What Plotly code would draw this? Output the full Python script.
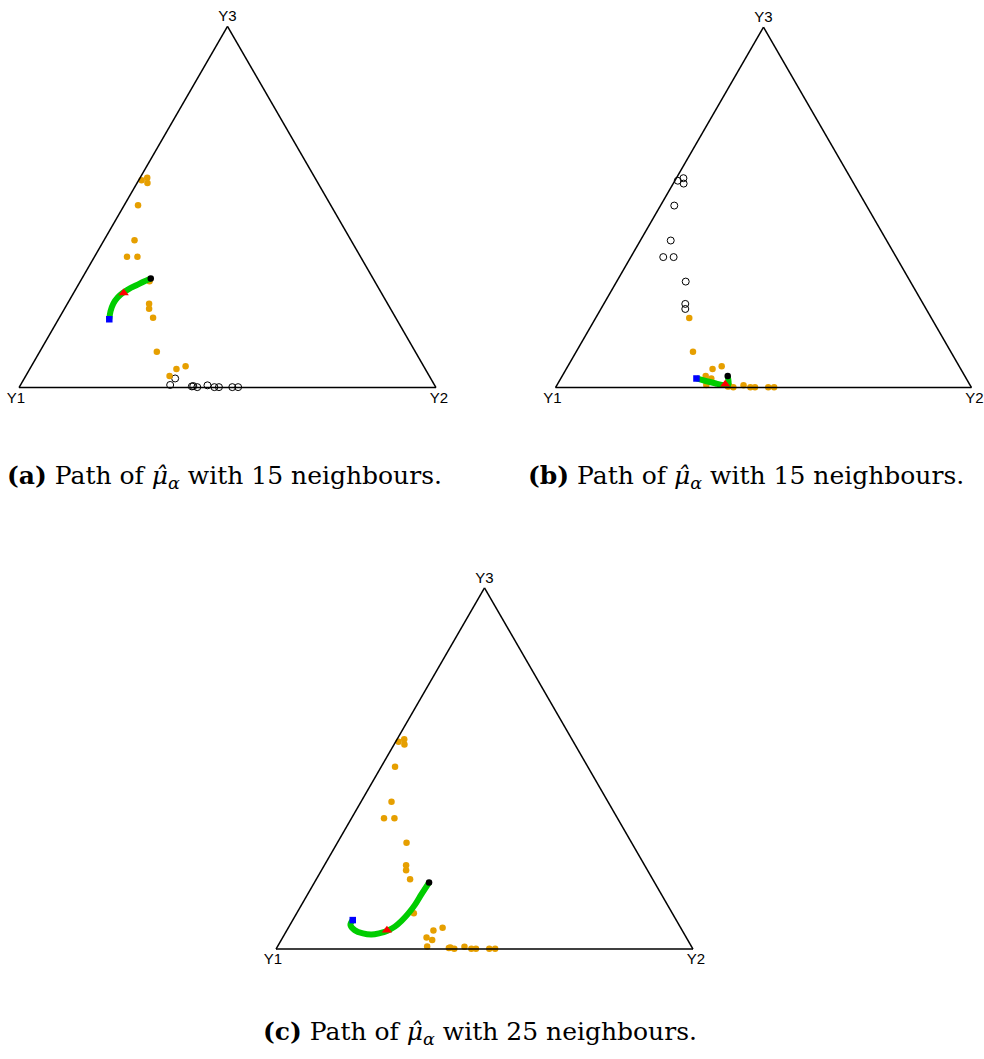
import plotly.graph_objects as go

W, H = 984, 1059

# ---- data: 25 compositions (Y1, Y2, Y3) ----
y1 = [0.419, 0.402, 0.409, 0.462, 0.519, 0.560, 0.535, 0.540, 0.572, 0.579,
      0.582, 0.620, 0.597, 0.571, 0.623, 0.613, 0.634, 0.584, 0.580, 0.572,
      0.545, 0.531, 0.520, 0.488, 0.474]
y2 = [0.007, 0.017, 0.025, 0.033, 0.073, 0.078, 0.103, 0.166, 0.196, 0.203,
      0.225, 0.281, 0.352, 0.370, 0.345, 0.362, 0.359, 0.413, 0.416, 0.427,
      0.449, 0.468, 0.479, 0.511, 0.525]
y3 = [0.574, 0.581, 0.566, 0.505, 0.408, 0.362, 0.362, 0.294, 0.232, 0.218,
      0.193, 0.099, 0.051, 0.059, 0.032, 0.025, 0.007, 0.003, 0.004, 0.001,
      0.006, 0.001, 0.001, 0.001, 0.001]

# neighbour sets (indices into the data) for each panel
neigh_a = list(range(0, 15))
neigh_b = list(range(10, 25))
neigh_c = list(range(0, 25))

# paths of mu_hat_alpha (Y1, Y2, Y3), start (blue) -> end (black)
path_a_y1 = [0.689, 0.675, 0.657, 0.638, 0.620, 0.598, 0.577, 0.555, 0.533]
path_a_y2 = [0.122, 0.114, 0.110, 0.112, 0.118, 0.128, 0.140, 0.152, 0.165]
path_a_y3 = [0.189, 0.211, 0.233, 0.250, 0.262, 0.274, 0.283, 0.293, 0.302]
red_a = (0.618, 0.120, 0.262)

path_b_y1 = [0.648, 0.630, 0.609, 0.591, 0.584, 0.579, 0.574, 0.570]
path_b_y2 = [0.326, 0.352, 0.380, 0.402, 0.411, 0.411, 0.405, 0.398]
path_b_y3 = [0.025, 0.018, 0.011, 0.006, 0.005, 0.010, 0.021, 0.032]
red_b = (0.5875, 0.4035, 0.009)

path_c_y1 = [0.776, 0.788, 0.785, 0.770, 0.751, 0.729, 0.709, 0.684, 0.660,
             0.634, 0.605, 0.575, 0.541]
path_c_y2 = [0.144, 0.145, 0.163, 0.187, 0.209, 0.227, 0.241, 0.254, 0.262,
             0.268, 0.272, 0.273, 0.275]
path_c_y3 = [0.080, 0.067, 0.052, 0.043, 0.040, 0.044, 0.050, 0.062, 0.078,
             0.098, 0.123, 0.152, 0.184]
red_c = (0.708, 0.240, 0.052)

captions = [
    "<b>(a)</b> Path of <i>μ̂</i><sub><i>α</i></sub> with 15 neighbours.",
    "<b>(b)</b> Path of <i>μ̂</i><sub><i>α</i></sub> with 15 neighbours.",
    "<b>(c)</b> Path of <i>μ̂</i><sub><i>α</i></sub> with 25 neighbours.",
]

ORANGE = "#E69F00"
GREEN = "#00CD00"

fig = go.Figure()


def add_panel(sub, neigh, py1, py2, py3, red):
    others = [i for i in range(len(y1)) if i not in neigh]
    if others:
        fig.add_trace(go.Scatterternary(
            subplot=sub, mode="markers", cliponaxis=False,
            a=[y3[i] for i in others], b=[y1[i] for i in others], c=[y2[i] for i in others],
            marker=dict(symbol="circle-open", size=7, color="black", line=dict(width=1)),
            showlegend=False, hoverinfo="skip"))
    fig.add_trace(go.Scatterternary(
        subplot=sub, mode="markers", cliponaxis=False,
        a=[y3[i] for i in neigh], b=[y1[i] for i in neigh], c=[y2[i] for i in neigh],
        marker=dict(symbol="circle", size=6.5, color=ORANGE),
        showlegend=False, hoverinfo="skip"))
    fig.add_trace(go.Scatterternary(
        subplot=sub, mode="lines", cliponaxis=False,
        a=py3, b=py1, c=py2,
        line=dict(color=GREEN, width=6, shape="spline"),
        showlegend=False, hoverinfo="skip"))
    fig.add_trace(go.Scatterternary(
        subplot=sub, mode="markers", cliponaxis=False,
        a=[py3[-1]], b=[py1[-1]], c=[py2[-1]],
        marker=dict(symbol="circle", size=6.5, color="black"),
        showlegend=False, hoverinfo="skip"))
    fig.add_trace(go.Scatterternary(
        subplot=sub, mode="markers", cliponaxis=False,
        a=[red[2]], b=[red[0]], c=[red[1]],
        marker=dict(symbol="triangle-up", size=9, color="red"),
        showlegend=False, hoverinfo="skip"))
    fig.add_trace(go.Scatterternary(
        subplot=sub, mode="markers", cliponaxis=False,
        a=[py3[0]], b=[py1[0]], c=[py2[0]],
        marker=dict(symbol="square", size=6.5, color="blue"),
        showlegend=False, hoverinfo="skip"))


add_panel("ternary", neigh_a, path_a_y1, path_a_y2, path_a_y3, red_a)
add_panel("ternary2", neigh_b, path_b_y1, path_b_y2, path_b_y3, red_b)
add_panel("ternary3", neigh_c, path_c_y1, path_c_y2, path_c_y3, red_c)


def tern_layout(x_left, width, base_y):
    h = width * 3 ** 0.5 / 2
    top_y = base_y - h
    lab = dict(family="Liberation Sans, Arial", size=15, color="black")
    ax = dict(showgrid=False, showticklabels=False, ticks="", ticklen=0, showline=True,
              linecolor="black", linewidth=1.5, min=0)
    return dict(
        sum=1, bgcolor="white",
        domain=dict(x=[x_left / W, (x_left + width) / W],
                    y=[1 - base_y / H, 1 - top_y / H]),
        aaxis=dict(title=dict(text="Y3", font=lab), **ax),
        baxis=dict(title=dict(text="Y1", font=lab), **ax),
        caxis=dict(title=dict(text="Y2", font=lab), **ax),
    )


fig.update_layout(
    width=W, height=H,
    margin=dict(l=0, r=0, t=0, b=0),
    paper_bgcolor="white", plot_bgcolor="white",
    ternary=tern_layout(19, 417, 387.5),
    ternary2=tern_layout(555.5, 416, 387.5),
    ternary3=tern_layout(276, 417, 949),
)

cap_font = dict(family="DejaVu Serif", size=25, color="black")
for txt, cx, cy in zip(captions, [224, 746, 480], [477, 477, 1033]):
    fig.add_annotation(text=txt, x=cx / W, y=1 - cy / H,
                       xref="paper", yref="paper",
                       showarrow=False, font=cap_font, xanchor="center", yanchor="middle")

# remove the default 8 px page margin so the figure sits at the window corner
fig.write_html("out.html", config={"displayModeBar": False},
               post_script="document.body.style.margin='0px';")
